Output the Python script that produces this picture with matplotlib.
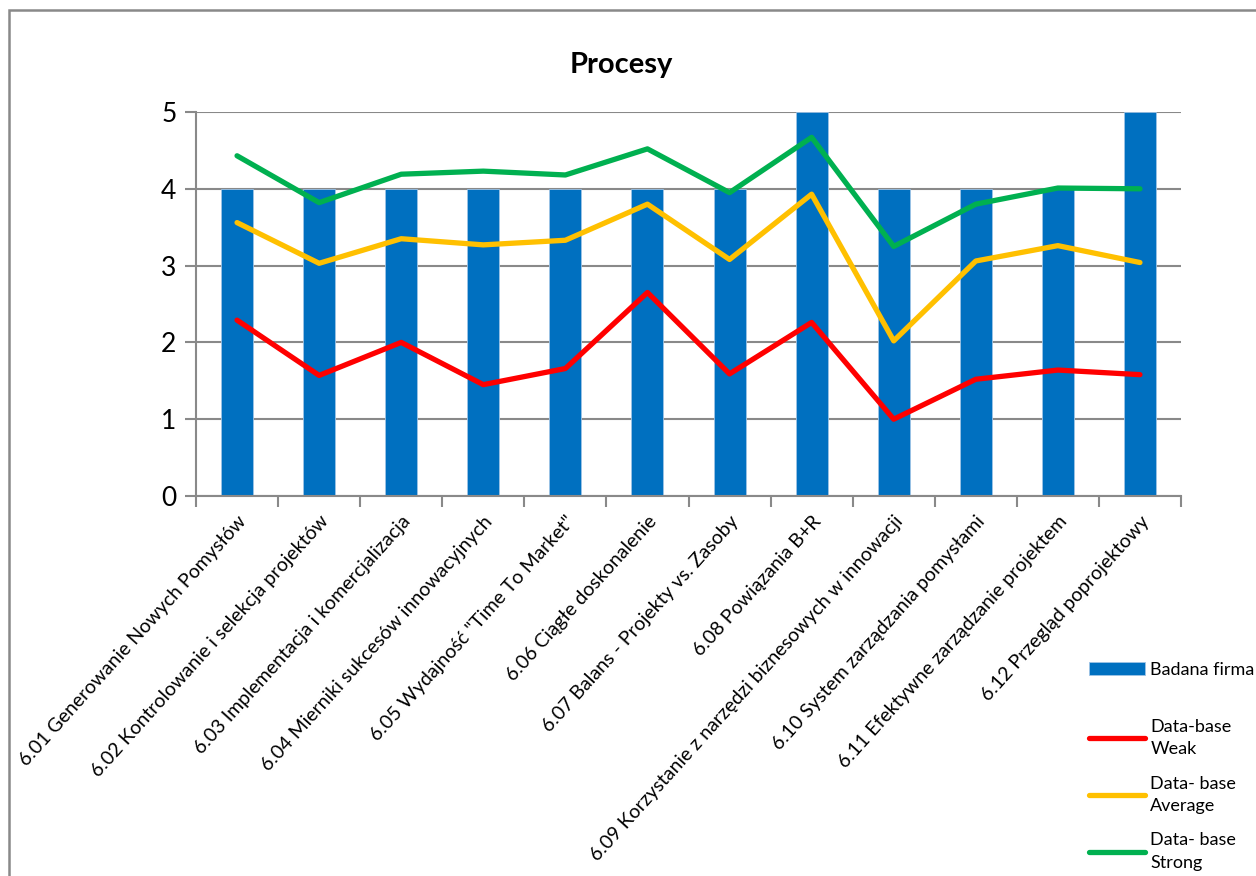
import numpy as np
import matplotlib
matplotlib.use('Agg')
import matplotlib.pyplot as plt
from matplotlib.patches import Rectangle

plt.rcParams['font.family'] = ['Lato', 'DejaVu Sans']

categories = ['6.01 Generowanie Nowych Pomysłów',
              '6.02 Kontrolowanie i selekcja projektów',
              '6.03 Implementacja i komercjalizacja',
              '6.04 Mierniki sukcesów innowacyjnych',
              '6.05 Wydajność "Time To Market"',
              '6.06 Ciągłe doskonalenie',
              '6.07 Balans - Projekty vs. Zasoby',
              '6.08 Powiązania B+R',
              '6.09 Korzystanie z narzędzi biznesowych w innowacji',
              '6.10 System zarządzania pomysłami',
              '6.11 Efektywne zarządzanie projektem',
              '6.12 Przegląd poprojektowy']

badana_firma = [4, 4, 4, 4, 4, 4, 4, 5, 4, 4, 4, 5]
weak = [2.29, 1.57, 2.00, 1.45, 1.66, 2.65, 1.59, 2.26, 1.00, 1.52, 1.64, 1.58]
average = [3.56, 3.03, 3.35, 3.27, 3.33, 3.80, 3.08, 3.93, 2.02, 3.06, 3.26, 3.04]
strong = [4.43, 3.82, 4.19, 4.23, 4.18, 4.52, 3.95, 4.67, 3.25, 3.80, 4.01, 4.00]

x = np.arange(len(categories))

fig = plt.figure(figsize=(12.56, 8.76), dpi=100)
ax = fig.add_axes([196/1256, 1 - 496/876, 985/1256, 384/876])

# outer chart frame (cut off on the right and bottom like the original)
fig.patches.append(Rectangle((9/1256, -0.1), 1.2, 1 - 10/876 + 0.1, transform=fig.transFigure,
                             fill=False, edgecolor='#898989', linewidth=1.8, zorder=0))

bars = ax.bar(x, badana_firma, width=0.39, color='#0070C0', edgecolor='#9DC3E6', linewidth=0.6,
              label='Badana firma', zorder=2)
lw = 3.8
l1, = ax.plot(x, weak, color='#FF0000', lw=lw, solid_capstyle='round', label='Data-base\nWeak', zorder=3)
l2, = ax.plot(x, average, color='#FFC000', lw=lw, solid_capstyle='round', label='Data- base\nAverage', zorder=3)
l3, = ax.plot(x, strong, color='#00B050', lw=lw, solid_capstyle='round', label='Data- base\nStrong', zorder=3)

ax.set_xlim(-0.5, len(categories) - 0.5)
ax.set_ylim(0, 5)
ax.set_yticks([0, 1, 2, 3, 4, 5])
ax.yaxis.grid(True, color='#898989', linewidth=1.5, zorder=0)
ax.set_axisbelow(True)

for s in ['top', 'right']:
    ax.spines[s].set_visible(False)
for s in ['left', 'bottom']:
    ax.spines[s].set_color('#898989')
    ax.spines[s].set_linewidth(1.5)

ax.tick_params(axis='y', length=8, width=1.5, color='#898989', labelsize=19, pad=6)
ax.set_xticks(x)
ax.set_xticks(np.arange(-0.5, len(categories)), minor=True)
ax.tick_params(axis='x', which='major', length=0, pad=12)
ax.tick_params(axis='x', which='minor', length=8, width=1.5, color='#898989')
ax.set_xticklabels(categories, rotation=48, ha='right', rotation_mode='anchor', fontsize=14)

fig.text(0.495, 0.926, 'Procesy', ha='center', va='center', fontsize=21, fontweight='bold')

fig.legend(handles=[bars], loc='center left', bbox_to_anchor=(1089/1256, 1 - 670/876),
           frameon=False, fontsize=13, handlelength=3.1, handletextpad=0.3,
           borderaxespad=0, borderpad=0)
leg = fig.legend(handles=[l1, l2, l3], loc='upper left', bbox_to_anchor=(1089/1256, 1 - 719/876),
                 frameon=False, fontsize=13, handlelength=3.1, handletextpad=0.3,
                 labelspacing=1.0, borderaxespad=0, borderpad=0)
for t in leg.get_texts():
    t.set_multialignment('left')
    t.set_linespacing(1.5)

fig.savefig('out.png', dpi=100)
